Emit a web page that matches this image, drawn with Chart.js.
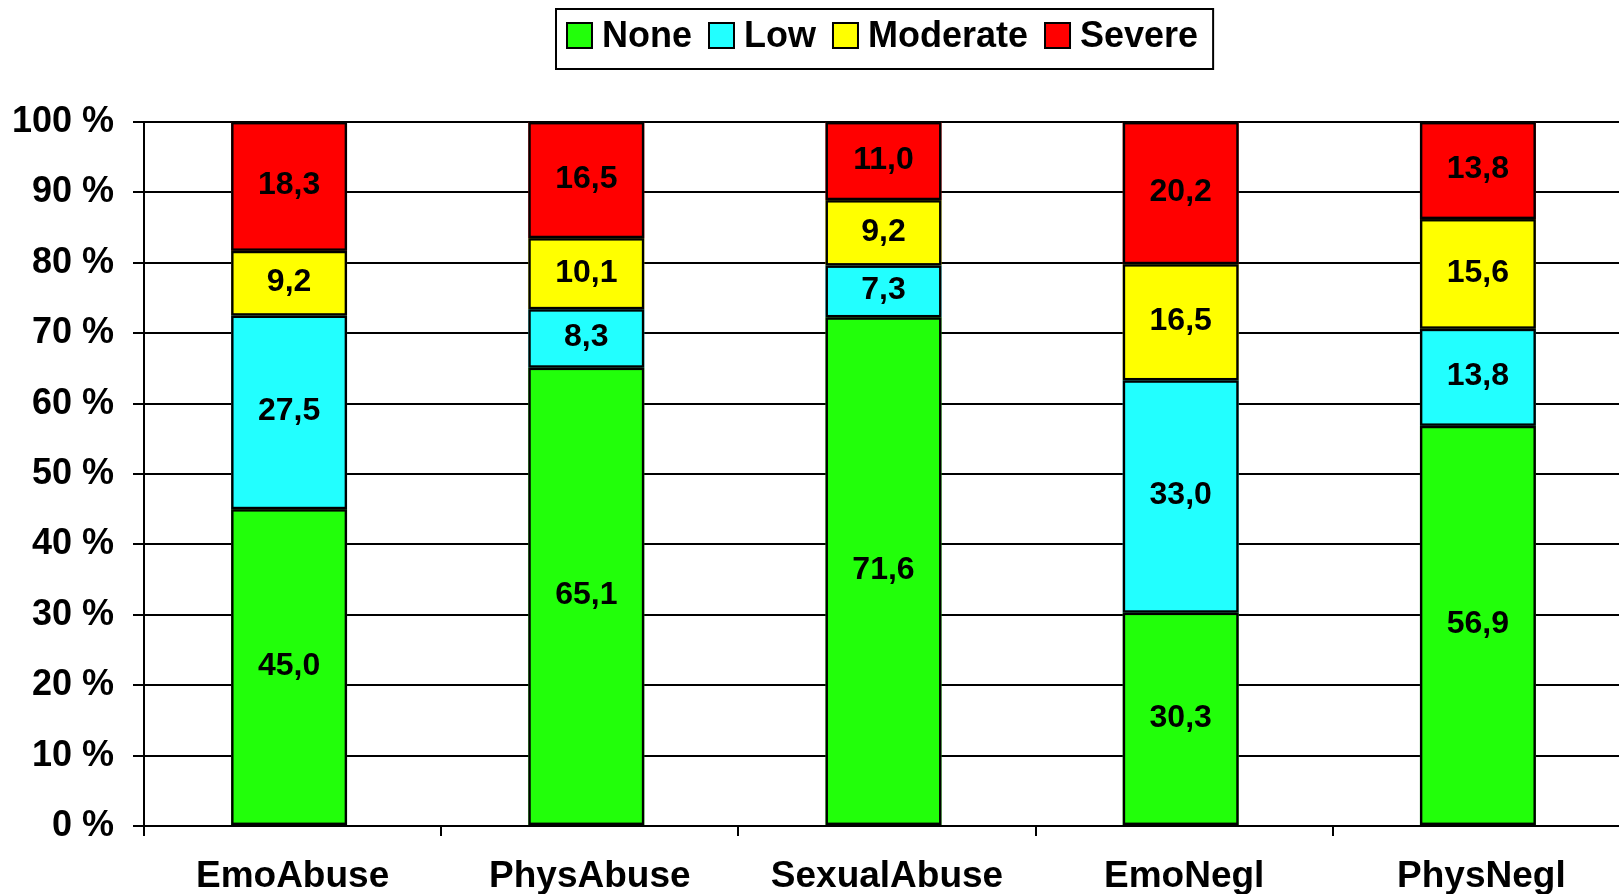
<!DOCTYPE html>
<html>
<head>
<meta charset="utf-8">
<script src="https://cdn.jsdelivr.net/npm/chart.js@4.4.0/dist/chart.umd.min.js"></script>
<style>
  html, body { margin: 0; padding: 0; background: #fff; overflow: hidden; }
  #wrap { position: relative; width: 1650px; height: 894px; }
</style>
</head>
<body>
<div id="wrap"><canvas id="stacked-chart"></canvas></div>
<script>
// Chart data
// ------------------------------
var categories = ["EmoAbuse", "PhysAbuse", "SexualAbuse", "EmoNegl", "PhysNegl"];
var seriesNames = ["None", "Low", "Moderate", "Severe"];
var noneValues = [45.0, 65.1, 71.6, 30.3, 56.9];
var lowValues = [27.5, 8.3, 7.3, 33.0, 13.8];
var moderateValues = [9.2, 10.1, 9.2, 16.5, 15.6];
var severeValues = [18.3, 16.5, 11.0, 20.2, 13.8];
var seriesColors = ['#22ff0a', '#22ffff', '#ffff00', '#ff0000'];
var yTicks = [0, 10, 20, 30, 40, 50, 60, 70, 80, 90, 100];

var rawSeries = [noneValues, lowValues, moderateValues, severeValues];
var FONT = '"Liberation Sans", Arial, sans-serif';
var BAR_SHIFT = -3.5;   // the columns sit slightly left of the category centre
var OUTLINE = 2.4;

// 100 % stacked: each column is scaled to its own total
var totals = categories.map(function (c, i) {
    return rawSeries.reduce(function (s, arr) { return s + arr[i]; }, 0);
});

var datasets = rawSeries.map(function (arr, k) {
    return {
        label: seriesNames[k],
        data: arr.map(function (v, i) { return v / totals[i] * 100; }),
        raw: arr,
        backgroundColor: seriesColors[k],
        borderWidth: 0,
        inflateAmount: 0,
        categoryPercentage: 1,
        barPercentage: 0.39
    };
});

// outlines + value labels for each segment
var segmentLabels = {
    id: 'segmentLabels',
    beforeDatasetsDraw: function (chart) {
        chart.ctx.save();
        chart.ctx.translate(BAR_SHIFT, 0);
    },
    afterDatasetsDraw: function (chart) {
        var ctx = chart.ctx;
        // outlines drawn inside each segment, so shared edges get doubled
        ctx.lineWidth = OUTLINE;
        ctx.strokeStyle = '#000';
        chart.data.datasets.forEach(function (ds, k) {
            chart.getDatasetMeta(k).data.forEach(function (bar) {
                var top = Math.min(bar.y, bar.base), bottom = Math.max(bar.y, bar.base);
                var x0 = bar.x - bar.width / 2, h = OUTLINE / 2;
                ctx.strokeRect(x0 + h, top + h, bar.width - OUTLINE, bottom - top - OUTLINE);
            });
        });
        ctx.font = 'bold 32px ' + FONT;
        ctx.fillStyle = '#000';
        ctx.textAlign = 'center';
        ctx.textBaseline = 'middle';
        chart.data.datasets.forEach(function (ds, k) {
            chart.getDatasetMeta(k).data.forEach(function (bar, i) {
                var mid = (bar.y + bar.base) / 2;
                ctx.fillText(ds.raw[i].toFixed(1).replace('.', ','), bar.x, mid - 1);
            });
        });
        ctx.restore();
    }
};

// framed legend at the top
var framedLegend = {
    id: 'framedLegend',
    afterDraw: function (chart) {
        var ctx = chart.ctx;
        var left = 556, top = 9, height = 60;
        var box = 25, gapText = 10, gapItem = 17, padL = 11, padR = 15;
        var boxTop = 23, baseline = 47;
        ctx.save();
        ctx.font = 'bold 36px ' + FONT;
        var widths = chart.data.datasets.map(function (ds) { return ctx.measureText(ds.label).width; });
        var total = widths.reduce(function (s, w) { return s + w + box + gapText; }, 0) + gapItem * (widths.length - 1);
        ctx.lineWidth = 2;
        ctx.strokeStyle = '#000';
        ctx.strokeRect(left, top, padL + total + padR, height);
        var x = left + padL;
        chart.data.datasets.forEach(function (ds, k) {
            ctx.fillStyle = ds.backgroundColor;
            ctx.fillRect(x, boxTop, box, box);
            ctx.strokeRect(x, boxTop, box, box);
            x += box + gapText;
            ctx.fillStyle = '#000';
            ctx.textAlign = 'left';
            ctx.textBaseline = 'alphabetic';
            ctx.fillText(ds.label, x, baseline);
            x += widths[k] + gapItem;
        });
        ctx.restore();
    }
};

var chartOptions = {
    responsive: true,
    maintainAspectRatio: false,
    animation: false,
    layout: { padding: { top: 122, left: 0, right: 20, bottom: 0 } },
    plugins: {
        legend: { display: false },
        tooltip: { enabled: false }
    },
    scales: {
        x: {
            stacked: true,
            afterFit: function (s) { s.height = 68; },
            border: { color: '#000', width: 2 },
            grid: { display: true, drawOnChartArea: false, offset: true, color: '#000', lineWidth: 2, tickLength: 10 },
            ticks: { color: '#000', padding: 19, font: { family: FONT, size: 37, weight: 'bold' } }
        },
        y: {
            stacked: true,
            min: 0,
            max: 100,
            afterFit: function (s) { s.width = 144; },
            afterBuildTicks: function (s) { s.ticks = yTicks.map(function (v) { return { value: v }; }); },
            border: { color: '#000', width: 2 },
            grid: { color: '#000', lineWidth: 2, tickLength: 11 },
            ticks: {
                color: '#000',
                padding: 19,
                font: { family: FONT, size: 36, weight: 'bold' },
                callback: function (v) { return v + ' %'; }
            }
        }
    }
};

var config = {
    type: 'bar',
    data: { labels: categories, datasets: datasets },
    options: chartOptions,
    plugins: [segmentLabels, framedLegend]
};

// Create the chart
var stackedChart = new Chart(document.getElementById('stacked-chart'), config);
</script>
</body>
</html>
